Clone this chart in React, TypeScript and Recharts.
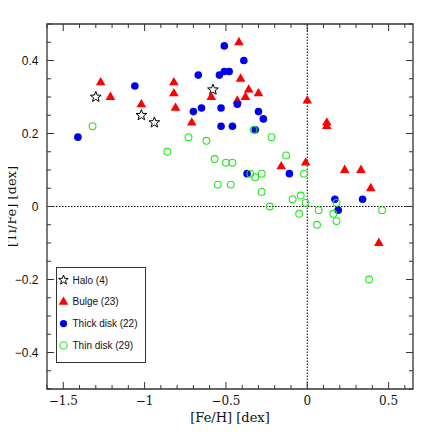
import React from 'react';
import {
  ScatterChart,
  Scatter,
  XAxis,
  YAxis,
  ReferenceLine,
  ReferenceArea,
  Legend,
} from 'recharts';

// [Fe/H] and [Ti/Fe] per population
const haloFeH = [-1.30, -1.02, -0.94, -0.58];
const haloTiFe = [0.30, 0.25, 0.23, 0.32];

const bulgeFeH = [-1.27, -1.21, -1.02, -0.82, -0.82, -0.81, -0.71, -0.59, -0.43, -0.42, -0.41, -0.36, -0.38, -0.30, 0.0, 0.12, 0.12, -0.16, -0.01, 0.23, 0.33, 0.39, 0.44];
const bulgeTiFe = [0.34, 0.30, 0.28, 0.34, 0.31, 0.27, 0.23, 0.30, 0.29, 0.45, 0.35, 0.32, 0.30, 0.31, 0.29, 0.23, 0.22, 0.11, 0.12, 0.10, 0.10, 0.05, -0.10];

const thickFeH = [-1.41, -1.06, -0.67, -0.51, -0.54, -0.51, -0.48, -0.70, -0.65, -0.53, -0.53, -0.46, -0.43, -0.39, -0.30, -0.27, -0.32, -0.37, -0.11, 0.17, 0.34, 0.19];
const thickTiFe = [0.19, 0.33, 0.36, 0.44, 0.36, 0.37, 0.37, 0.26, 0.27, 0.27, 0.22, 0.22, 0.28, 0.40, 0.26, 0.24, 0.21, 0.09, 0.09, 0.02, 0.02, -0.01];

const thinFeH = [-1.32, -0.86, -0.73, -0.62, -0.57, -0.50, -0.46, -0.55, -0.47, -0.33, -0.22, -0.13, -0.35, -0.32, -0.28, -0.02, -0.28, -0.04, -0.09, -0.23, -0.01, -0.05, 0.07, 0.06, 0.16, 0.18, 0.18, 0.46, 0.38];
const thinTiFe = [0.22, 0.15, 0.19, 0.18, 0.13, 0.12, 0.12, 0.06, 0.06, 0.21, 0.19, 0.14, 0.09, 0.08, 0.09, 0.09, 0.04, 0.03, 0.02, 0.00, 0.01, -0.02, -0.01, -0.05, -0.02, 0.01, -0.04, -0.01, -0.20];

const xTicks = [-1.6, -1.5, -1.4, -1.3, -1.2, -1.1, -1.0, -0.9, -0.8, -0.7, -0.6, -0.5, -0.4, -0.3, -0.2, -0.1, 0, 0.1, 0.2, 0.3, 0.4, 0.5, 0.6];
const xLabels = [-1.5, -1, -0.5, 0, 0.5];
const yTicks = [-0.5, -0.45, -0.4, -0.35, -0.3, -0.25, -0.2, -0.15, -0.1, -0.05, 0, 0.05, 0.1, 0.15, 0.2, 0.25, 0.3, 0.35, 0.4, 0.45, 0.5];
const yLabels = [-0.4, -0.2, 0, 0.2, 0.4];

const legendItems = ['Halo (4)', 'Bulge (23)', 'Thick disk (22)', 'Thin disk (29)'];

const zip = (xs: number[], ys: number[]) => xs.map((x, i) => ({ x, y: ys[i] }));
const halo = zip(haloFeH, haloTiFe);
const bulge = zip(bulgeFeH, bulgeTiFe);
const thick = zip(thickFeH, thickTiFe);
const thin = zip(thinFeH, thinTiFe);

const W = 436;
const H = 436;
const PLOT_W = 366;
const PLOT_H = 365;
const FRAME = '#333';
const RED = '#ff0000';
const BLUE = '#0000f0';
const GREEN = '#22e622';
const SERIF = '"DejaVu Serif", serif';
const SANS = '"Liberation Sans", Arial, sans-serif';

const near = (list: number[], v: number) => list.some(l => Math.abs(l - v) < 1e-6);
const fmt = (v: number) => (v < 0 ? '\u2212' + String(Math.abs(v)) : String(v));

const starPath = (cx: number, cy: number, ro: number, ri: number) => {
  let d = '';
  for (let i = 0; i < 10; i++) {
    const r = i % 2 === 0 ? ro : ri;
    const a = -Math.PI / 2 + (i * Math.PI) / 5;
    d += (i === 0 ? 'M' : 'L') + (cx + r * Math.cos(a)).toFixed(2) + ',' + (cy + r * Math.sin(a)).toFixed(2);
  }
  return d + 'Z';
};

const Star = ({ cx, cy, r = 5.6 }: any) => (
  <path d={starPath(cx, cy, r, r * 0.42)} fill="#fff" stroke="#000" strokeWidth={1} />
);
const Tri = ({ cx, cy, s = 1 }: any) => (
  <path
    d={`M${cx},${cy - 5.4 * s}L${cx + 4.8 * s},${cy + 2.9 * s}L${cx - 4.8 * s},${cy + 2.9 * s}Z`}
    fill={RED}
  />
);
const Dot = ({ cx, cy, r = 3.8 }: any) => <circle cx={cx} cy={cy} r={r} fill={BLUE} />;
const Ring = ({ cx, cy, r = 3.4 }: any) => (
  <circle cx={cx} cy={cy} r={r} fill="none" stroke={GREEN} strokeWidth={1.1} />
);

const XTick = (props: any) => {
  const { x, y, payload } = props;
  const major = near(xLabels, payload.value);
  const len = major ? 7 : 4;
  return (
    <g>
      <line x1={x} x2={x} y1={y} y2={y - len} stroke={FRAME} />
      <line x1={x} x2={x} y1={y - PLOT_H} y2={y - PLOT_H + len} stroke={FRAME} />
      {major && (
        <text x={x} y={y + 15.5} textAnchor="middle" fontFamily={SERIF} fontSize={12} fill="#111">
          {fmt(payload.value)}
        </text>
      )}
    </g>
  );
};

const YTick = (props: any) => {
  const { x, y, payload } = props;
  const major = near(yLabels, payload.value);
  const len = major ? 7 : 4;
  return (
    <g>
      <line x1={x} x2={x + len} y1={y} y2={y} stroke={FRAME} />
      <line x1={x + PLOT_W} x2={x + PLOT_W - len} y1={y} y2={y} stroke={FRAME} />
      {major && (
        <text x={x - 8.5} y={y + 4.3} textAnchor="end" fontFamily={SANS} fontSize={12} fill="#111">
          {fmt(payload.value)}
        </text>
      )}
    </g>
  );
};

const LegendBox = () => (
  <svg width={90} height={96} style={{ display: 'block' }}>
    <rect x={0.5} y={0.5} width={89} height={95} fill="#fff" stroke={FRAME} strokeWidth={1} />
    {legendItems.map((label, i) => {
      const cy = 13 + i * 21.8;
      const cx = 7.5;
      return (
        <g key={label}>
          {i === 0 && <Star cx={cx} cy={cy} r={5} />}
          {i === 1 && <Tri cx={cx} cy={cy} s={1} />}
          {i === 2 && <Dot cx={cx} cy={cy} r={3.6} />}
          {i === 3 && <Ring cx={cx} cy={cy} r={3.6} />}
          <text x={16.5} y={cy + 3.6} fontFamily={SANS} fontSize={10} fill="#111">
            {label}
          </text>
        </g>
      );
    })}
  </svg>
);

export default function App() {
  return (
    <div style={{ margin: -8, width: W, height: H, background: '#fff' }}>
      <ScatterChart width={W} height={H} margin={{ top: 24, right: 23, left: 0, bottom: 0 }}>
        <XAxis
          type="number"
          dataKey="x"
          domain={[-1.6, 0.65]}
          ticks={xTicks}
          interval={0}
          height={47}
          axisLine={false}
          tickLine={false}
          tickSize={0}
          tickMargin={0}
          tick={<XTick />}
          allowDataOverflow
          label={(p: any) => {
            const vb = p.viewBox;
            return (
              <text x={vb.x + vb.width / 2} y={421.5} textAnchor="middle" fontFamily={SERIF} fontSize={13} fill="#111">
                [Fe/H] [dex]
              </text>
            );
          }}
        />
        <YAxis
          type="number"
          dataKey="y"
          domain={[-0.5, 0.5]}
          ticks={yTicks}
          interval={0}
          width={47}
          axisLine={false}
          tickLine={false}
          tickSize={0}
          tickMargin={0}
          tick={<YTick />}
          allowDataOverflow
          label={(p: any) => {
            const vb = p.viewBox;
            const cy = vb.y + vb.height / 2;
            return (
              <text
                x={16}
                y={cy}
                transform={`rotate(-90 16 ${cy})`}
                textAnchor="middle"
                fontFamily={SERIF}
                fontSize={13}
                fill="#111"
              >
                [Ti/Fe] [dex]
              </text>
            );
          }}
        />
        <ReferenceLine x={0} stroke="#000" strokeDasharray="1.5 1.5" />
        <ReferenceLine y={0} stroke="#000" strokeDasharray="1.5 1.5" />
        <ReferenceArea
          x1={-1.6}
          x2={0.65}
          y1={-0.5}
          y2={0.5}
          fill="none"
          fillOpacity={0}
          stroke={FRAME}
          strokeWidth={1.3}
          ifOverflow="visible"
        />
        <Scatter name="Halo (4)" data={halo} shape={<Star />} isAnimationActive={false} />
        <Scatter name="Bulge (23)" data={bulge} shape={<Tri />} isAnimationActive={false} />
        <Scatter name="Thick disk (22)" data={thick} shape={<Dot />} isAnimationActive={false} />
        <Scatter name="Thin disk (29)" data={thin} shape={<Ring />} isAnimationActive={false} />
        <Legend
          layout="vertical"
          align="center"
          verticalAlign="middle"
          content={() => <LegendBox />}
          wrapperStyle={{ left: 56, top: 267, width: 90, height: 96 }}
        />
      </ScatterChart>
    </div>
  );
}
